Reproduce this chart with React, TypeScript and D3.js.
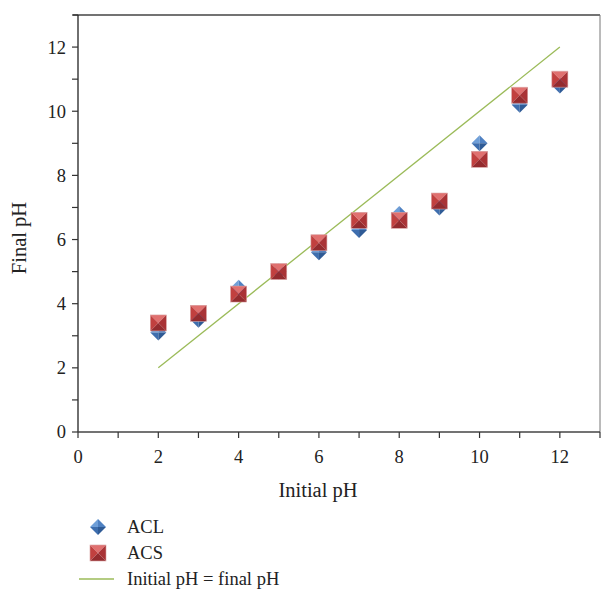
import React from "react";
import * as d3 from "d3";

const initialPH = [2, 3, 4, 5, 6, 7, 8, 9, 10, 11, 12];
const aclFinal = [3.1, 3.5, 4.5, 5.0, 5.6, 6.3, 6.8, 7.0, 9.0, 10.2, 10.8];
const acsFinal = [3.4, 3.7, 4.3, 5.0, 5.9, 6.6, 6.6, 7.2, 8.5, 10.5, 11.0];
const identityLine = [2, 12];
const majorTicks = [0, 2, 4, 6, 8, 10, 12];
const minorTicks = [1, 3, 5, 7, 9, 11, 13];

const font = "'Liberation Serif', 'DejaVu Serif', serif";

const Diamond = ({ x, y, r = 8 }: { x: number; y: number; r?: number }) => (
  <g transform={`translate(${x},${y})`}>
    <path d={`M0,0 L0,${-r} L${-r},0 Z`} fill="#6f9fd8" />
    <path d={`M0,0 L0,${-r} L${r},0 Z`} fill="#4f81c2" />
    <path d={`M0,0 L${-r},0 L0,${r} Z`} fill="#3e6eae" />
    <path d={`M0,0 L${r},0 L0,${r} Z`} fill="#2f5b96" />
  </g>
);

const Square = ({ x, y, r = 8 }: { x: number; y: number; r?: number }) => (
  <g transform={`translate(${x},${y})`}>
    <path d={`M0,0 L${-r},${-r} L${r},${-r} Z`} fill="#e0706f" />
    <path d={`M0,0 L${-r},${-r} L${-r},${r} Z`} fill="#c1403f" />
    <path d={`M0,0 L${r},${-r} L${r},${r} Z`} fill="#a93336" />
    <path d={`M0,0 L${-r},${r} L${r},${r} Z`} fill="#942b2e" />
    <rect x={-r} y={-r} width={r * 2} height={r * 2} fill="none" stroke="#d8a0a0" strokeWidth={0.6} />
  </g>
);

const App = () => {
  const left = 78;
  const right = 600;
  const top = 15;
  const bottom = 432;

  const x = d3.scaleLinear().domain([0, 13]).range([left, right]);
  const y = d3.scaleLinear().domain([0, 13]).range([bottom, top]);

  const line = d3
    .line<number>()
    .x((d) => x(d))
    .y((d) => y(d));

  return (
    <svg width={601} height={590} style={{ position: "absolute", left: 0, top: 0 }}>
      <rect width={601} height={590} fill="#fff" />
      {/* frame */}
      <line x1={73} x2={right} y1={top} y2={top} stroke="#444" strokeWidth={1.3} />
      <line x1={right} x2={right} y1={top} y2={bottom} stroke="#777" strokeWidth={1} />
      <line x1={left} x2={left} y1={top} y2={bottom} stroke="#222" strokeWidth={1.3} />
      <line x1={left} x2={right} y1={bottom} y2={bottom} stroke="#444" strokeWidth={1.3} />

      {/* y ticks */}
      {majorTicks.concat(minorTicks).map((t) => (
        <line key={`yt${t}`} x1={left - 6} x2={left} y1={y(t)} y2={y(t)} stroke="#333" strokeWidth={1.2} />
      ))}
      {majorTicks.map((t) => (
        <text key={`yl${t}`} x={66} y={y(t)} dy="0.35em" textAnchor="end" fontFamily={font} fontSize={18.5} fill="#222">
          {t}
        </text>
      ))}

      {/* x ticks */}
      {majorTicks.concat(minorTicks).map((t) => (
        <line key={`xt${t}`} x1={x(t)} x2={x(t)} y1={bottom} y2={bottom + 6} stroke="#333" strokeWidth={1.2} />
      ))}
      {majorTicks.map((t) => (
        <text key={`xl${t}`} x={x(t)} y={463} textAnchor="middle" fontFamily={font} fontSize={18.5} fill="#222">
          {t}
        </text>
      ))}

      <text x={318} y={497} textAnchor="middle" fontFamily={font} fontSize={20.5} fill="#222">
        Initial pH
      </text>
      <text
        transform={`translate(26,238) rotate(-90)`}
        textAnchor="middle"
        fontFamily={font}
        fontSize={20.5}
        fill="#222"
      >
        Final pH
      </text>

      <path d={line(identityLine) ?? ""} fill="none" stroke="#9bbb59" strokeWidth={1.3} />

      {initialPH.map((p, i) => (
        <Diamond key={`d${i}`} x={x(p)} y={y(aclFinal[i])} />
      ))}
      {initialPH.map((p, i) => (
        <Square key={`s${i}`} x={x(p)} y={y(acsFinal[i])} />
      ))}

      {/* legend */}
      <Diamond x={98} y={527} />
      <text x={127} y={533} fontFamily={font} fontSize={18.5} fill="#222">ACL</text>
      <Square x={98} y={553} />
      <text x={127} y={559} fontFamily={font} fontSize={18.5} fill="#222">ACS</text>
      <line x1={79} x2={114} y1={579} y2={579} stroke="#9bbb59" strokeWidth={1.3} />
      <text x={127} y={585} fontFamily={font} fontSize={18.5} fill="#222">Initial pH = final pH</text>
    </svg>
  );
};

export default App;
